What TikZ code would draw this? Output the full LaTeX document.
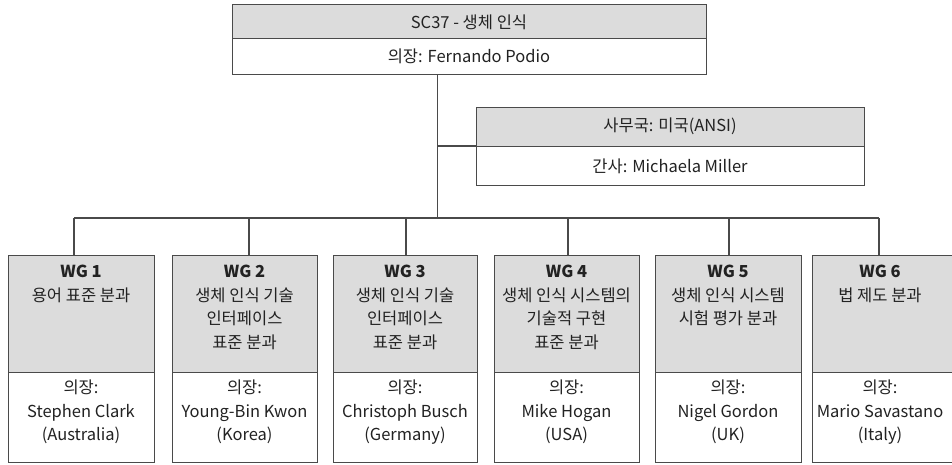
\documentclass[tikz,border=0pt]{standalone}
\usepackage{fontspec}
\setmainfont{Noto Sans CJK KR}
\begin{document}
\begin{tikzpicture}[x=1pt,y=-1pt,
  box/.style={draw=linec, line width=1.1pt, rectangle, inner sep=0pt, anchor=north west},
  gbox/.style={box, fill=boxgray},
  wbox/.style={box, fill=white},
  txt/.style={anchor=center, align=center, inner sep=0pt, font=\fontsize{16.5}{23.5}\selectfont, text=textc},
  wtxt/.style={anchor=north, align=center, inner sep=0pt, font=\fontsize{16.5}{23.5}\selectfont, text=textc},
  conn/.style={draw=linec, line width=1.1pt}]
\definecolor{boxgray}{HTML}{DCDCDC}
\definecolor{linec}{HTML}{4A4A4A}
\definecolor{textc}{HTML}{222222}
\useasboundingbox (0,0) rectangle (952,464);
\clip (0,0) rectangle (952,464);
% top box
\node[gbox, minimum width=474, minimum height=34] (sc) at (232,4) {};
\node[wbox, minimum width=474, minimum height=36] (scchair) at (232,38) {};
\node[txt] (sct) at (469,22) {SC37 - 생체 인식};
\node[txt] (scct) at (469,56) {의장: Fernando Podio};
% secretariat
\node[gbox, minimum width=388, minimum height=39] (sec) at (476,107) {};
\node[wbox, minimum width=388, minimum height=39] (secw) at (476,146) {};
\node[txt] (sect) at (670,126) {사무국: 미국(ANSI)};
\node[txt] (secwt) at (670,166) {간사: Michaela Miller};
% WG boxes
\foreach \n/\x/\w in {1/8/146, 2/172/145, 3/333/144, 4/494/145, 5/655/146, 6/812/145}{
  \node[gbox, minimum width=\w, minimum height=117] (wg\n) at (\x,255) {};
  \node[wbox, minimum width=\w, minimum height=90] (ch\n) at (\x,372) {};
}
% WG texts
\node[wtxt] (wgt1) at (81,265) {\textbf{WG 1}\\용어 표준 분과};
\node[wtxt] (wgt2) at (244.5,265) {\textbf{WG 2}\\생체 인식 기술\\인터페이스\\표준 분과};
\node[wtxt] (wgt3) at (405,265) {\textbf{WG 3}\\생체 인식 기술\\인터페이스\\표준 분과};
\node[wtxt] (wgt4) at (566.5,265) {\textbf{WG 4}\\생체 인식 시스템의\\기술적 구현\\표준 분과};
\node[wtxt] (wgt5) at (728,265) {\textbf{WG 5}\\생체 인식 시스템\\시험 평가 분과};
\node[wtxt] (wgt6) at (880,265) {\textbf{WG 6}\\법 제도 분과};
\node[wtxt] (cht1) at (81,380) {의장:\\Stephen Clark\\(Australia)};
\node[wtxt] (cht2) at (244.5,380) {의장:\\Young-Bin Kwon\\(Korea)};
\node[wtxt] (cht3) at (405,380) {의장:\\Christoph Busch\\(Germany)};
\node[wtxt] (cht4) at (566.5,380) {의장:\\Mike Hogan\\(USA)};
\node[wtxt] (cht5) at (728,380) {의장:\\Nigel Gordon\\(UK)};
\node[wtxt] (cht6) at (880,380) {의장:\\Mario Savastano\\(Italy)};
% connectors
\coordinate (trunkTop) at (437.5,74);
\coordinate (trunkBot) at (437.5,218);
\coordinate (s1) at (74,218);
\coordinate (s2) at (249,218);
\coordinate (s3) at (406,218);
\coordinate (s4) at (568,218);
\coordinate (s5) at (729,218);
\coordinate (s6) at (879,218);
\draw[conn] (scchair.south -| trunkTop) -- (trunkBot);
\draw[conn] (secw.north west) -- (secw.north west -| trunkTop);
\draw[conn] (s1) -- (s6);
\foreach \n in {1,...,6}{
  \draw[conn] (s\n) -- (s\n |- wg\n.north);
}
\end{tikzpicture}
\end{document}
